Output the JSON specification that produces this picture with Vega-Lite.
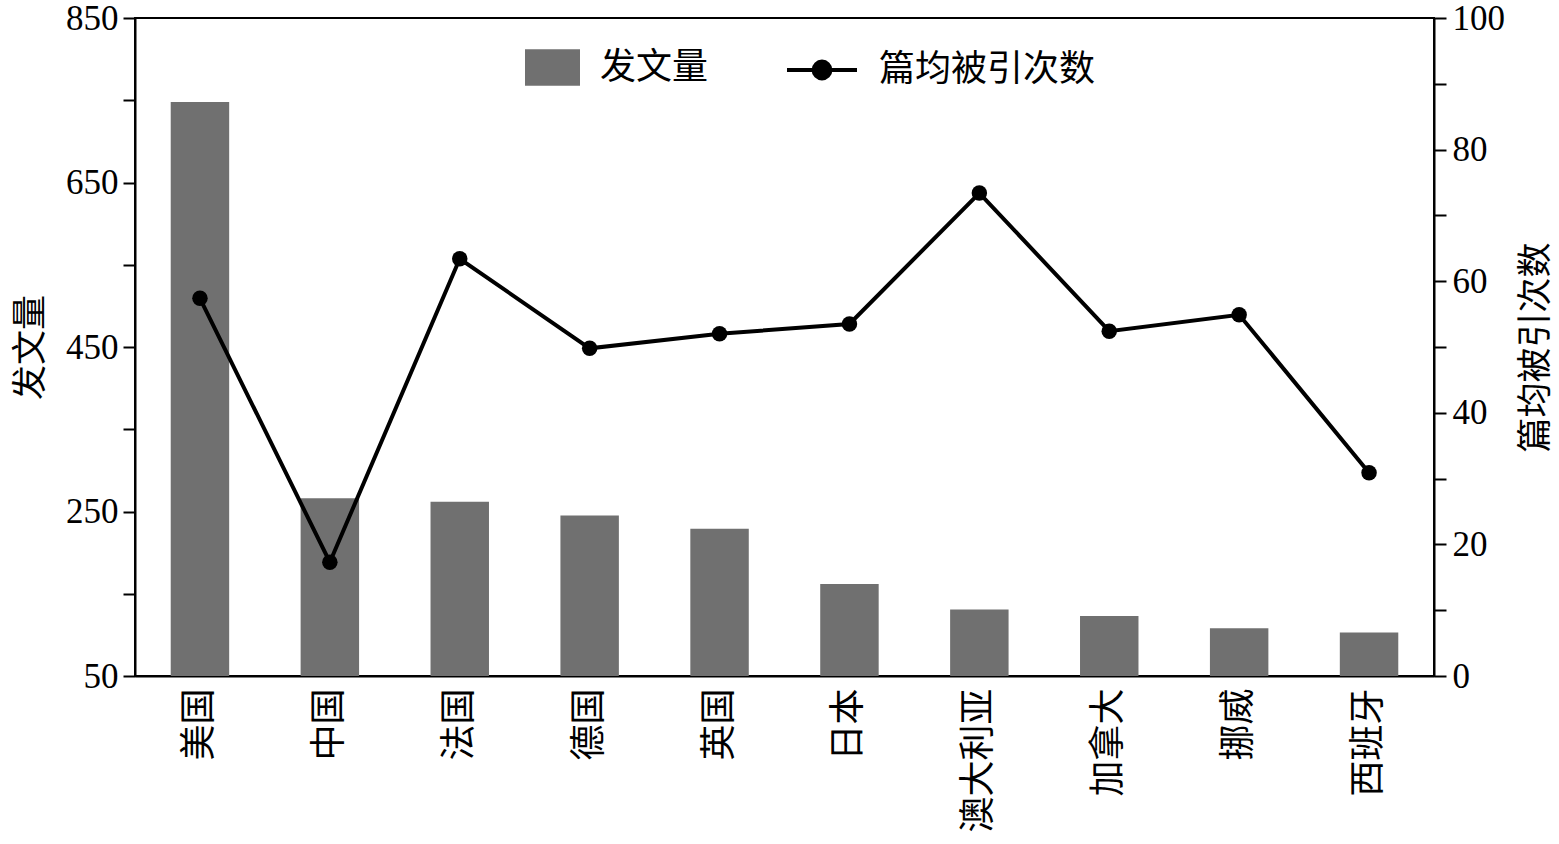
{
  "$schema": "https://vega.github.io/schema/vega-lite/v6.json",
  "autosize": "none",
  "width": 1299,
  "height": 658,
  "padding": {"left": 135, "top": 18, "right": 125, "bottom": 168},
  "background": "white",
  "view": {"stroke": "black", "strokeWidth": 2},
  "config": {
    "font": "Liberation Serif",
    "axis": {"domainColor": "black", "domainWidth": 2, "tickColor": "black", "tickWidth": 2, "labelColor": "black", "titleColor": "black", "grid": false},
    "legend": {"padding": 0, "labelFont": "Noto Sans CJK SC", "labelFontSize": 36, "labelColor": "black", "labelFontWeight": "normal", "labelLimit": 0}
  },
  "data": {"values": [
    {"country": "美国", "papers": 748, "cites": 57.4},
    {"country": "中国", "papers": 266, "cites": 17.3},
    {"country": "法国", "papers": 262, "cites": 63.4},
    {"country": "德国", "papers": 245, "cites": 49.8},
    {"country": "英国", "papers": 229, "cites": 52.0},
    {"country": "日本", "papers": 162, "cites": 53.5},
    {"country": "澳大利亚", "papers": 131, "cites": 73.4},
    {"country": "加拿大", "papers": 123, "cites": 52.4},
    {"country": "挪威", "papers": 108, "cites": 54.9},
    {"country": "西班牙", "papers": 103, "cites": 30.9}
  ]},
  "encoding": {
    "x": {
      "field": "country", "type": "nominal", "sort": null,
      "scale": {"paddingInner": 0.55, "paddingOuter": 0.275},
      "axis": {"title": null, "labelAngle": -90, "labelFont": "Noto Sans CJK SC", "labelFontSize": 36, "labelPadding": 12, "ticks": false, "domain": true, "labelLimit": 0}
    }
  },
  "layer": [
    {
      "mark": {"type": "bar"},
      "encoding": {
        "y": {
          "field": "papers", "type": "quantitative",
          "scale": {"domain": [50, 850], "nice": false, "zero": false},
          "axis": {
            "title": "发文量", "titleFont": "Noto Sans CJK SC", "titleFontSize": 35, "titleFontWeight": "normal",
            "titleX": -105, "titleY": 329, "titleAngle": -90, "titleAlign": "center", "titleBaseline": "middle",
            "values": [50, 150, 250, 350, 450, 550, 650, 750, 850],
            "labelExpr": "datum.value % 200 == 50 ? datum.label : ''",
            "labelFontSize": 35, "tickSize": 12, "labelPadding": 5
          }
        },
        "y2": {"datum": 50},
        "color": {
          "datum": "发文量", "type": "nominal",
          "scale": {"domain": ["发文量"], "range": ["#707070"]},
          "legend": {"title": null, "orient": "none", "legendX": 390, "legendY": 22, "symbolType": "M-1,-0.66H1V0.66H-1Z", "symbolSize": 3025, "symbolStrokeWidth": 0, "labelOffset": 20}
        }
      }
    },
    {
      "mark": {"type": "line", "strokeWidth": 4},
      "encoding": {
        "y": {
          "field": "cites", "type": "quantitative",
          "scale": {"domain": [0, 100], "nice": false},
          "axis": {
            "orient": "right",
            "title": "篇均被引次数", "titleFont": "Noto Sans CJK SC", "titleFontSize": 35, "titleFontWeight": "normal",
            "titleX": 101, "titleY": 329, "titleAngle": -90, "titleAlign": "center", "titleBaseline": "middle",
            "values": [0, 10, 20, 30, 40, 50, 60, 70, 80, 90, 100],
            "labelExpr": "datum.value % 20 == 0 ? datum.label : ''",
            "labelFontSize": 35, "tickSize": 12, "labelPadding": 6
          }
        },
        "stroke": {
          "datum": "篇均被引次数", "type": "nominal",
          "scale": {"domain": ["篇均被引次数"], "range": ["black"]},
          "legend": {"title": null, "orient": "none", "legendX": 650, "legendY": 15,
            "symbolType": "M-1,0L1,0M0.24,0A0.24,0.24,0,1,1,-0.24,0A0.24,0.24,0,1,1,0.24,0Z",
            "symbolSize": 4900, "symbolStrokeWidth": 4, "symbolFillColor": "black", "labelOffset": 20,
            "encode": {"symbols": {"update": {"fill": {"value": "black"}, "stroke": {"value": "black"}}}}}
        }
      }
    },
    {
      "mark": {"type": "point", "filled": true, "size": 240, "color": "black", "opacity": 1},
      "encoding": {
        "y": {"field": "cites", "type": "quantitative", "scale": {"domain": [0, 100], "nice": false}, "axis": null}
      }
    }
  ],
  "resolve": {"scale": {"y": "independent"}}
}
